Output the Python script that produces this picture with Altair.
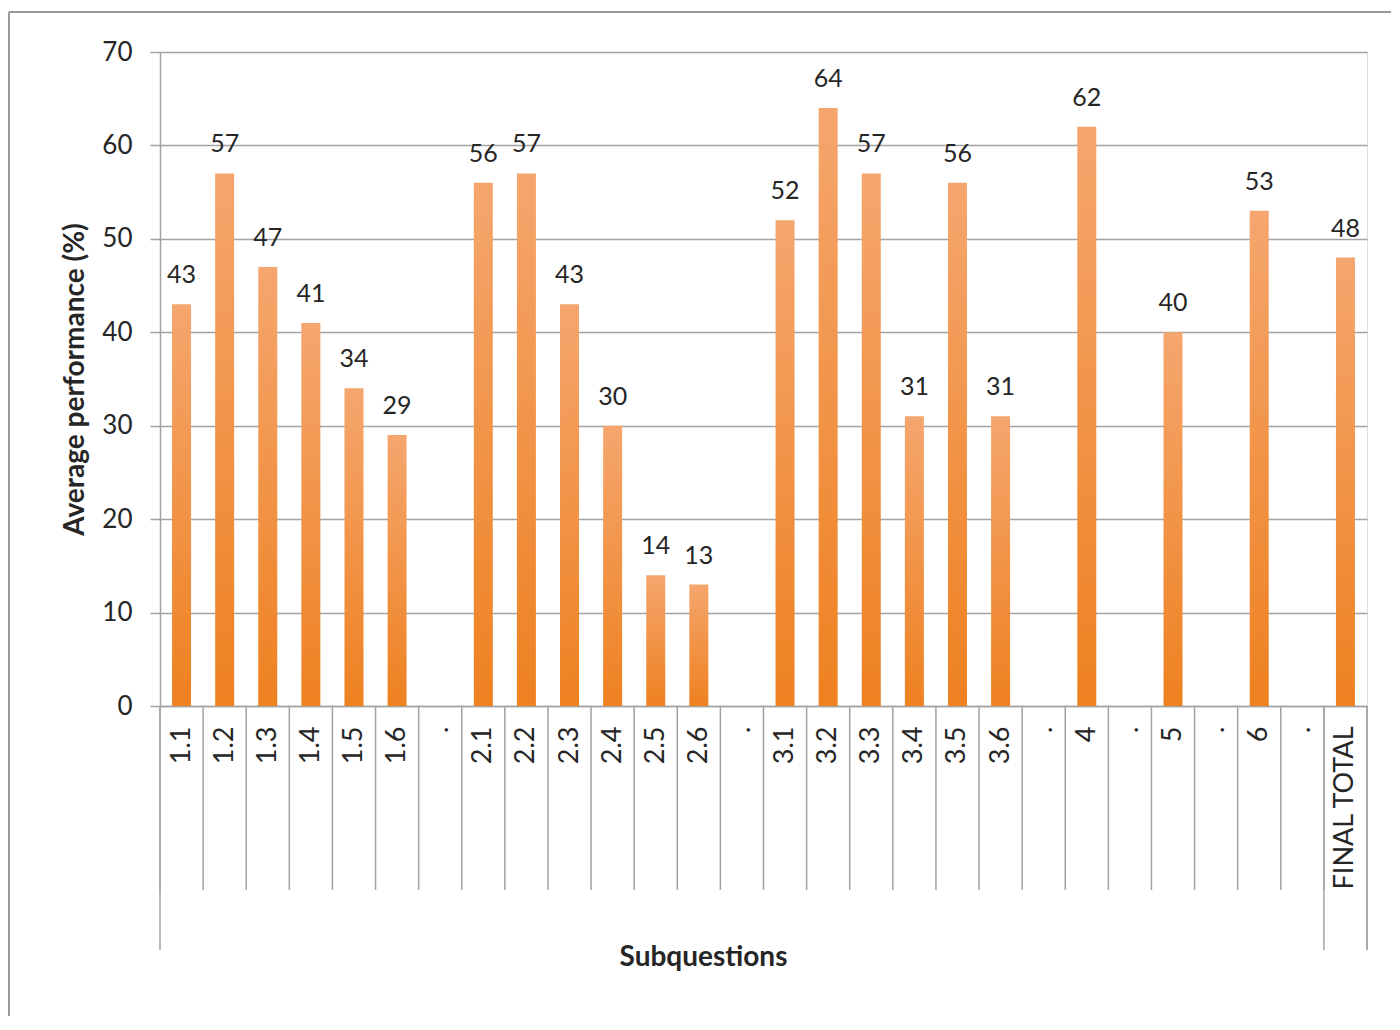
import altair as alt
import pandas as pd

keys = ["1.1", "1.2", "1.3", "1.4", "1.5", "1.6", "gap1",
        "2.1", "2.2", "2.3", "2.4", "2.5", "2.6", "gap2",
        "3.1", "3.2", "3.3", "3.4", "3.5", "3.6", "gap3",
        "4", "gap4", "5", "gap5", "6", "gap6", "FINAL TOTAL"]
values = [43, 57, 47, 41, 34, 29, None,
          56, 57, 43, 30, 14, 13, None,
          52, 64, 57, 31, 56, 31, None,
          62, None, 40, None, 53, None, 48]
long_lines = ["1.1", "FINAL TOTAL"]

df = pd.DataFrame({"key": keys, "value": values})
df_long = pd.DataFrame({"key": long_lines})

W, H = 1207, 654
GRID = "#a3a3a3"
TXT = "#262626"
FONT = "Lato"

xscale = alt.Scale(domain=keys, paddingInner=0, paddingOuter=0)
gradient = alt.Gradient(
    gradient="linear", x1=0, y1=0, x2=0, y2=1,
    stops=[alt.GradientStop(color="#f5a66e", offset=0),
           alt.GradientStop(color="#ee8120", offset=1)])

base = alt.Chart(df)

bars = base.transform_filter("isValid(datum.value)").mark_bar(size=19, color=gradient).encode(
    x=alt.X("key:N", scale=xscale, sort=keys,
            axis=alt.Axis(title="Subquestions", labelAngle=-90, labelPadding=20,
                          labelFontSize=27, labelFont=FONT, labelColor=TXT,
                          labelExpr="indexof(datum.value, 'gap') == 0 ? '.' : datum.value",
                          ticks=False, domainColor=GRID, domainWidth=1.5,
                          titleFont=FONT, titleFontSize=28, titleFontWeight="bold",
                          titleColor=TXT, titleX=543, titleY=251,
                          titleAlign="center", titleBaseline="middle")),
    y=alt.Y("value:Q", scale=alt.Scale(domain=[0, 70], nice=False),
            axis=alt.Axis(title="Average performance (%)", values=list(range(0, 71, 10)),
                          grid=True, gridColor=GRID, gridWidth=1.5,
                          tickSize=10, tickColor=GRID, tickWidth=1.5,
                          domainColor=GRID, domainWidth=1.5,
                          labelFontSize=26, labelFont=FONT, labelColor=TXT, labelPadding=18,
                          titleFont=FONT, titleFontSize=28, titleFontWeight="bold",
                          titleColor=TXT, titleX=-85, titleY=327, titleAngle=-90,
                          titleAlign="center", titleBaseline="middle")),
)

labels = base.transform_filter("isValid(datum.value)").mark_text(
    baseline="alphabetic", dy=-21, fontSize=25, font=FONT, color=TXT).encode(
    x=alt.X("key:N", scale=xscale, sort=keys),
    y=alt.Y("value:Q"),
    text=alt.Text("value:Q"),
)

ticks = base.mark_rule(color=GRID, strokeWidth=1.5).encode(
    x=alt.X("key:N", scale=xscale, sort=keys, bandPosition=0),
    y=alt.value(H), y2=alt.value(H + 184),
)

long_ticks = alt.Chart(df_long).mark_rule(color=GRID, strokeWidth=1.5).encode(
    x=alt.X("key:N", scale=xscale, sort=keys, bandPosition=0),
    y=alt.value(H), y2=alt.value(H + 244),
)

right_edge = alt.Chart(df_long).mark_rule(color=GRID, strokeWidth=1.5).encode(
    x=alt.value(W), y=alt.value(H), y2=alt.value(H + 244),
)

frame_top = alt.Chart(df_long).mark_rule(color="#9a9a9a", strokeWidth=2).encode(
    x=alt.value(-151), x2=alt.value(W + 24), y=alt.value(-40),
)
frame_left = alt.Chart(df_long).mark_rule(color="#9a9a9a", strokeWidth=2).encode(
    x=alt.value(-151), y=alt.value(-40), y2=alt.value(H + 310),
)

chart = alt.layer(frame_top, frame_left, ticks, long_ticks, right_edge, bars, labels).properties(
    width=W, height=H,
    autosize=alt.AutoSizeParams(type="none"),
    padding={"left": 152, "top": 44, "right": 24, "bottom": 310},
).configure_view(stroke=None).configure(background="white")

chart.save("out.html", embed_options={"renderer": "svg", "actions": False})
